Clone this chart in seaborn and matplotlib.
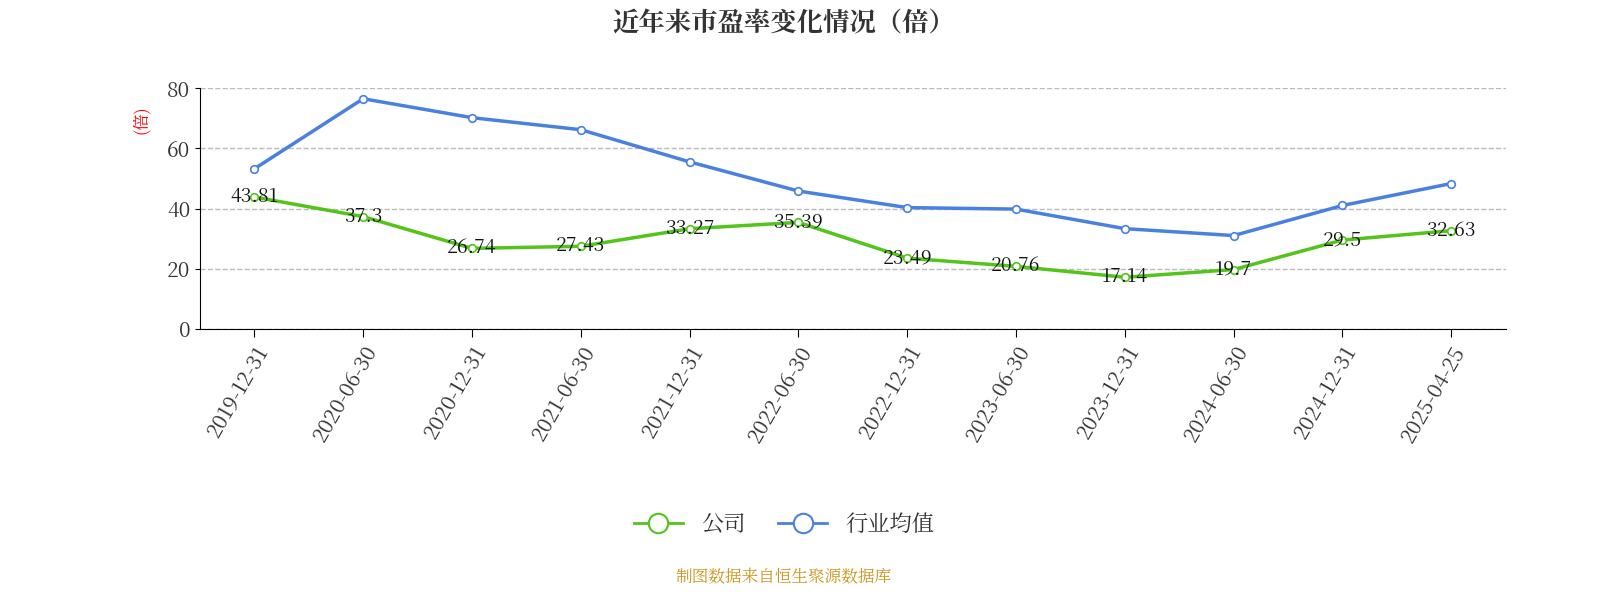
import matplotlib
matplotlib.use("Agg")
import matplotlib.pyplot as plt
from matplotlib import font_manager as fm
import seaborn as sns
import pandas as pd
import glob

for f in glob.glob("/usr/share/fonts/**/*CJK*", recursive=True):
    try:
        fm.fontManager.addfont(f)
    except Exception:
        pass
cjk = [f.name for f in fm.fontManager.ttflist if "CJK" in f.name]
fam = "Noto Sans CJK SC" if "Noto Sans CJK SC" in cjk else (cjk[0] if cjk else "DejaVu Sans")
plt.rcParams["font.family"] = "sans-serif"
plt.rcParams["font.sans-serif"] = [fam, "DejaVu Sans"]

dates = ["2019-12-31", "2020-06-30", "2020-12-31", "2021-06-30", "2021-12-31", "2022-06-30",
         "2022-12-31", "2023-06-30", "2023-12-31", "2024-06-30", "2024-12-31", "2025-04-25"]
company = [43.81, 37.3, 26.74, 27.43, 33.27, 35.39, 23.49, 20.76, 17.14, 19.7, 29.5, 32.63]
industry = [53.2, 76.5, 70.2, 66.2, 55.5, 45.8, 40.3, 39.8, 33.3, 31.0, 41.0, 48.3]
series_names = ["公司", "行业均值"]
colors = ["#52c41a", "#4a80e0"]

fig = plt.figure(figsize=(16, 6), dpi=100)
ax = fig.add_axes([0.125, 0.452, 0.816, 0.401])
for vals, c in zip([company, industry], colors):
    d = pd.DataFrame({"x": range(len(dates)), "v": vals})
    sns.lineplot(data=d, x="x", y="v", ax=ax, color=c, linewidth=2.5, zorder=3)
    ax.scatter(d["x"], d["v"], s=30, facecolor="white", edgecolor=c, linewidth=1.2, zorder=4)
for x, v in zip(range(len(dates)), company):
    ax.text(x, v, f"{v:g}", ha="center", va="center", fontsize=14, color="#111", zorder=5)

ax.set_xlim(-0.5, len(dates) - 0.5)
ax.set_ylim(0, 80)
ax.set_yticks([0, 20, 40, 60, 80])
ax.set_xticks(range(len(dates)))
ax.set_xticklabels(dates, rotation=60, ha="right", rotation_mode="anchor", fontsize=15, color="#333")
ax.tick_params(axis="y", labelsize=15, labelcolor="#333")
ax.tick_params(axis="x", length=6)
ax.yaxis.grid(True, linestyle="--", color="#bbb", linewidth=1)
ax.set_axisbelow(True)
for s in ["top", "right"]:
    ax.spines[s].set_visible(False)
ax.set_xlabel("")
ax.set_ylabel("")
fig.text(0.088, 0.80, "(倍)", color="red", rotation=90, fontsize=12, ha="center", va="center")
fig.text(0.49, 0.96, "近年来市盈率变化情况（倍）", fontsize=19, fontweight="bold", ha="center", va="center", color="#333")

from matplotlib.lines import Line2D
handles = [Line2D([], [], color=c, lw=2, marker="o", markersize=14, markerfacecolor="white", markeredgewidth=1.5) for c in colors]
fig.legend(handles, series_names, loc="center", bbox_to_anchor=(0.49, 0.125), ncol=2, frameon=False,
           fontsize=16, handlelength=2.2, columnspacing=1.5, labelcolor="#333")
fig.text(0.49, 0.038, "制图数据来自恒生聚源数据库", color="#c8961e", fontsize=12, ha="center", va="center")
fig.savefig("out.png", dpi=100)
